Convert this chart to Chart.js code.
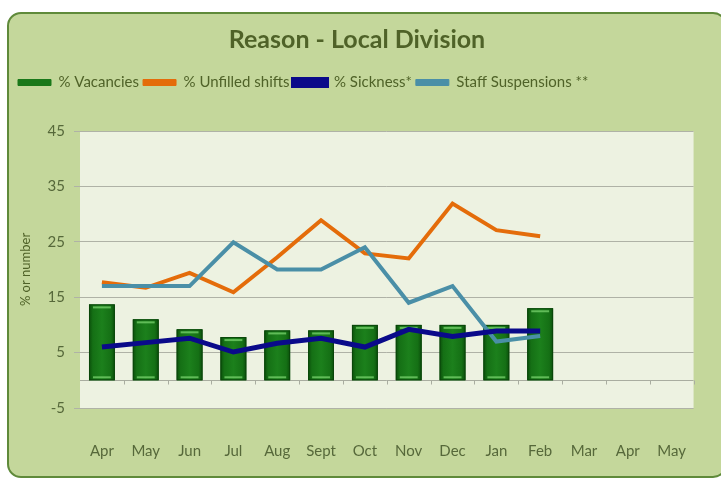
<!DOCTYPE html>
<html>
<head>
<meta charset="utf-8">
<script src="https://cdn.jsdelivr.net/npm/chart.js@4"></script>
<style>
    body { margin: 0; background: #ffffff; }
    #wrap { position: relative; width: 721px; height: 481px; }
    #frame {
        position: absolute; left: 7px; top: 12px; width: 716px; height: 462px;
        background: #c4d79b; border: 2px solid #5f8a3a; border-radius: 14px;
    }
    #chart { position: absolute; left: 0; top: 0; }
</style>
</head>
<body>
<div id="wrap">
    <div id="frame"></div>
    <canvas id="chart" width="721" height="481"></canvas>
</div>
<script>
const months = ["Apr", "May", "Jun", "Jul", "Aug", "Sept", "Oct", "Nov", "Dec", "Jan", "Feb", "Mar", "Apr", "May"]
const vacancies = [13.7, 11, 9.2, 7.8, 9, 9, 10, 10, 10, 10, 13]
const unfilledShifts = [17.7, 16.7, 19.4, 15.9, 22.2, 28.9, 22.9, 22, 31.9, 27.1, 26]
const sickness = [6, 6.8, 7.6, 5.1, 6.7, 7.6, 6, 9.2, 7.9, 8.9, 8.9]
const suspensions = [17, 17, 17, 24.9, 20, 20, 24, 14, 17, 7, 8]

const textColor = "#4f6228"
const tickColor = "#56683a"
const font = "Lato, 'Open Sans', sans-serif"

// plot background + zero line with small category ticks
const plotDecor = {
    id: "plotDecor",
    beforeDraw(chart) {
        const { ctx, chartArea } = chart
        ctx.save()
        ctx.fillStyle = "#edf2e1"
        ctx.fillRect(chartArea.left, chartArea.top, chartArea.right - chartArea.left, chartArea.bottom - chartArea.top)
        ctx.restore()
    },
    beforeDatasetsDraw(chart) {
        const { ctx, chartArea, scales } = chart
        const y0 = Math.round(scales.y.getPixelForValue(0)) + 0.5
        const step = scales.x.getPixelForValue(1) - scales.x.getPixelForValue(0)
        ctx.save()
        ctx.strokeStyle = "#a9ada0"
        ctx.lineWidth = 1
        ctx.beginPath()
        ctx.moveTo(chartArea.left, y0)
        ctx.lineTo(chartArea.right, y0)
        for (let i = 0; i < months.length; i++) {
            const x = Math.round(scales.x.getPixelForValue(i) + step / 2) + 0.5
            ctx.moveTo(x, y0)
            ctx.lineTo(x, y0 + 4)
        }
        ctx.stroke()
        ctx.restore()
    },
    // give the bars the shaded "bevel" look
    afterDatasetDraw(chart, args) {
        if (args.index !== 0) return
        const ctx = chart.ctx
        args.meta.data.forEach(bar => {
            const left = bar.x - bar.width / 2
            const top = Math.min(bar.y, bar.base)
            const h = Math.abs(bar.base - bar.y)
            const g = ctx.createLinearGradient(left, 0, left + bar.width, 0)
            g.addColorStop(0, "#0b4f0b")
            g.addColorStop(0.15, "#157015")
            g.addColorStop(0.5, "#1c801c")
            g.addColorStop(0.85, "#157015")
            g.addColorStop(1, "#0b4f0b")
            ctx.save()
            ctx.fillStyle = g
            ctx.fillRect(left, top, bar.width, h)
            ctx.strokeStyle = "#0a460a"
            ctx.lineWidth = 1
            ctx.strokeRect(left + 0.5, top + 0.5, bar.width - 1, h - 1)
            ctx.fillStyle = "rgba(120,210,110,0.75)"
            ctx.fillRect(left + 4, top + 2, bar.width - 8, 2)
            ctx.fillRect(left + 4, top + h - 4, bar.width - 8, 2)
            ctx.restore()
        })
    }
}

new Chart(document.getElementById("chart"), {
    type: "bar",
    data: {
        labels: months,
        datasets: [
            {
                label: "% Vacancies",
                data: vacancies,
                backgroundColor: "#1a781a",
                borderColor: "#0d4f0d",
                borderWidth: 1,
                barPercentage: 0.59,
                categoryPercentage: 1,
                order: 4
            },
            {
                type: "line",
                label: "% Unfilled shifts",
                data: unfilledShifts,
                borderColor: "#e46c0a",
                backgroundColor: "#e46c0a",
                borderWidth: 4,
                pointRadius: 0,
                order: 3
            },
            {
                type: "line",
                label: "% Sickness*",
                data: sickness,
                borderColor: "#0a0a8a",
                backgroundColor: "#0a0a8a",
                borderWidth: 5,
                pointRadius: 0,
                order: 1
            },
            {
                type: "line",
                label: "Staff Suspensions **",
                data: suspensions,
                borderColor: "#4a8fa7",
                backgroundColor: "#4a8fa7",
                borderWidth: 4,
                pointRadius: 0,
                order: 2
            }
        ]
    },
    options: {
        responsive: false,
        animation: false,
        layout: { padding: { left: 14, right: 21, top: 16, bottom: 21 } },
        plugins: {
            title: {
                display: true,
                text: "Reason - Local Division",
                color: textColor,
                font: { family: font, size: 25, weight: "bold" },
                padding: { top: 9, bottom: 16 }
            },
            legend: {
                position: "top",
                align: "start",
                labels: {
                    color: textColor,
                    font: { family: font, size: 15 },
                    boxWidth: 33,
                    boxHeight: 6,
                    padding: 4,
                    sort: (a, b) => a.datasetIndex - b.datasetIndex,
                    generateLabels(chart) {
                        const items = Chart.defaults.plugins.legend.labels.generateLabels(chart)
                        items.forEach((item, i) => {
                            if (i > 0) {
                                item.strokeStyle = item.fillStyle
                                item.lineWidth = 1
                            }
                        })
                        return items
                    }
                }
            },
            tooltip: { enabled: false }
        },
        scales: {
            x: {
                grid: { display: false, drawTicks: false },
                border: { display: false },
                ticks: { color: tickColor, font: { family: font, size: 15 }, padding: 34, maxRotation: 0 },
                afterFit(scale) { scale.height = 52 }
            },
            xTop: {
                type: "category",
                position: "top",
                grid: { display: false, drawTicks: false },
                border: { display: false },
                ticks: { display: false },
                afterFit(scale) { scale.height = 31 }
            },
            y: {
                min: -5,
                max: 45,
                ticks: { stepSize: 10, color: tickColor, font: { family: font, size: 15 }, padding: 9 },
                grid: { color: "#afb2a6", tickLength: 6 },
                border: { display: false },
                title: {
                    display: true,
                    text: "% or number",
                    color: textColor,
                    font: { family: font, size: 13 }
                },
                afterFit(scale) { scale.width = 66 }
            }
        }
    },
    plugins: [plotDecor]
})
</script>
</body>
</html>
